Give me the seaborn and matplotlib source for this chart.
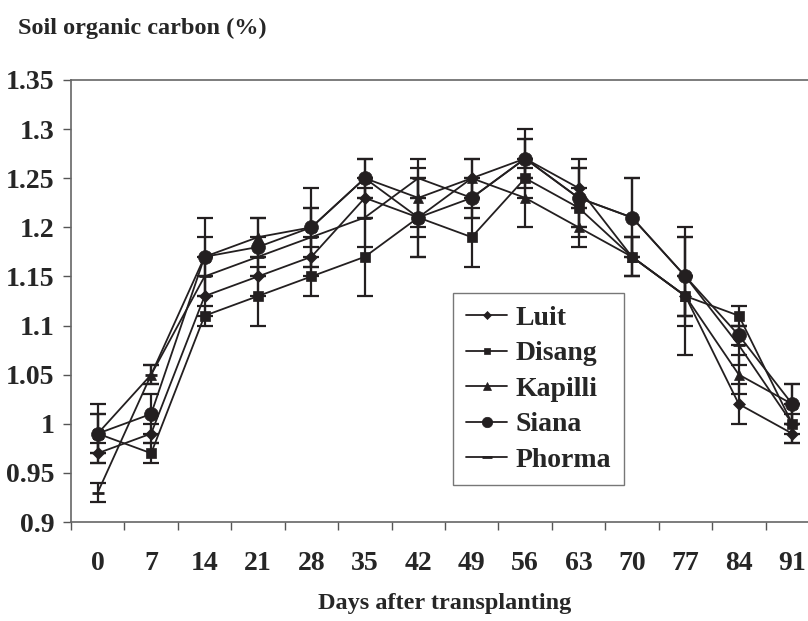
import numpy as np
import pandas as pd
import matplotlib
matplotlib.use("Agg")
import matplotlib.pyplot as plt
from matplotlib.ticker import FuncFormatter, MultipleLocator
import seaborn as sns

sns.set_style("white")
plt.rcParams['font.family'] = ['Liberation Serif', 'DejaVu Serif']
plt.rcParams['font.weight'] = 'bold'

days = [0, 7, 14, 21, 28, 35, 42, 49, 56, 63, 70, 77, 84, 91]
varieties = ['Luit', 'Disang', 'Kapilli', 'Siana', 'Phorma']

luit = [0.97, 0.99, 1.13, 1.15, 1.17, 1.23, 1.21, 1.25, 1.27, 1.24, 1.17, 1.13, 1.02, 0.99]
disang = [0.99, 0.97, 1.11, 1.13, 1.15, 1.17, 1.21, 1.19, 1.25, 1.22, 1.17, 1.13, 1.11, 1.00]
kapilli = [0.99, 1.05, 1.17, 1.19, 1.20, 1.25, 1.23, 1.25, 1.23, 1.20, 1.17, 1.13, 1.05, 1.02]
siana = [0.99, 1.01, 1.17, 1.18, 1.20, 1.25, 1.21, 1.23, 1.27, 1.23, 1.21, 1.15, 1.09, 1.02]
phorma = [0.93, 1.05, 1.15, 1.17, 1.19, 1.21, 1.25, 1.23, 1.27, 1.23, 1.21, 1.15, 1.08, 1.00]

luit_err = [0.01, 0.01, 0.02, 0.02, 0.02, 0.02, 0.02, 0.02, 0.02, 0.02, 0.02, 0.02, 0.02, 0.01]
disang_err = [0.02, 0.01, 0.01, 0.03, 0.02, 0.04, 0.04, 0.03, 0.02, 0.02, 0.02, 0.06, 0.01, 0.02]
kapilli_err = [0.02, 0.01, 0.02, 0.02, 0.02, 0.02, 0.03, 0.02, 0.03, 0.02, 0.02, 0.02, 0.02, 0.02]
siana_err = [0.03, 0.02, 0.04, 0.03, 0.04, 0.02, 0.04, 0.02, 0.03, 0.04, 0.04, 0.05, 0.01, 0.02]
phorma_err = [0.01, 0.01, 0.02, 0.02, 0.03, 0.03, 0.02, 0.02, 0.02, 0.03, 0.04, 0.04, 0.02, 0.01]

values = [luit, disang, kapilli, siana, phorma]
errors = [luit_err, disang_err, kapilli_err, siana_err, phorma_err]
markers = ['D', 's', '^', 'o', '_']
msizes = [6, 6.5, 7, 10, 9]

ink = '#231f20'
fig = plt.figure(figsize=(8.08, 6.21), dpi=100)
ax = fig.add_axes([71 / 808, 99 / 621, 748 / 808, 442 / 621])

for name, vals, errs, mk, ms in zip(varieties, values, errors, markers, msizes):
    df = pd.DataFrame({'day': days, 'soc': vals})
    ax.errorbar(days, vals, yerr=errs, fmt='none', ecolor=ink,
                elinewidth=1.6, capsize=6, capthick=1.6, zorder=2)
    sns.lineplot(data=df, x='day', y='soc', ax=ax, color=ink, marker=mk,
                 markersize=ms, markeredgewidth=2 if mk == '_' else 0.5,
                 markeredgecolor=ink, linewidth=1.3, label=name, zorder=3)

ax.set_xlim(-3.5, 94.5)
ax.set_ylim(0.9, 1.35)
ax.set_xticks(days)
ax.set_xticklabels([str(d) for d in days])
ax.xaxis.set_minor_locator(MultipleLocator(7, offset=3.5))
ax.yaxis.set_major_locator(MultipleLocator(0.05))
ax.yaxis.set_major_formatter(FuncFormatter(lambda v, p: '%g' % round(v, 2)))
ax.tick_params(axis='x', which='major', length=0, pad=21, labelsize=20)
ax.tick_params(axis='x', which='minor', length=6, width=1, color='#555555', bottom=True)
ax.tick_params(axis='y', length=6, width=1, color='#555555', left=True, pad=6, labelsize=20)
ax.set_xlabel('')
ax.set_ylabel('')
for s in ['left', 'bottom', 'top']:
    ax.spines[s].set_color('#666666')
    ax.spines[s].set_linewidth(1.2)
ax.spines['right'].set_visible(False)

handles, labels = ax.get_legend_handles_labels()
leg = ax.legend(handles, labels, loc='upper left', bbox_to_anchor=(0.511, 0.518),
                borderaxespad=0, fancybox=False, frameon=True, fontsize=20,
                handlelength=1.5, handletextpad=0.3, labelspacing=0.36,
                borderpad=0.45, markerscale=0.75)
leg.get_frame().set_edgecolor('#555555')
leg.get_frame().set_linewidth(1.0)

fig.text(18 / 808, 1 - 28 / 621, 'Soil organic carbon (%)', fontsize=17.5,
         fontweight='bold', va='center', ha='left')
fig.text(445 / 808, 1 - 603 / 621, 'Days after transplanting', fontsize=17.5,
         fontweight='bold', va='center', ha='center')

fig.savefig('out.png', dpi=100)
